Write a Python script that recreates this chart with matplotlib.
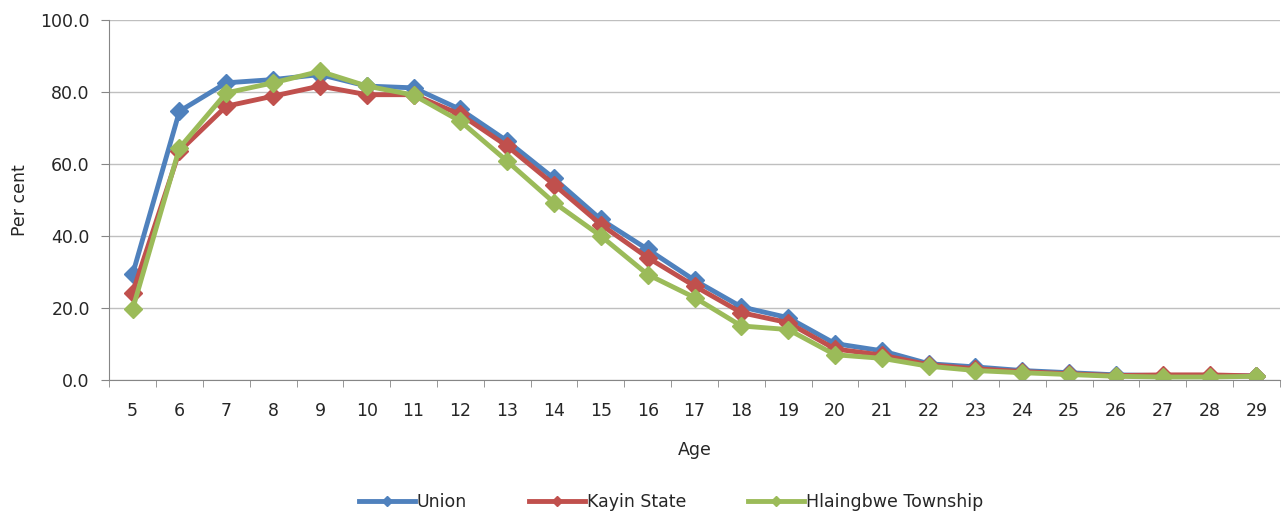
import matplotlib.pyplot as plt
import numpy as np

plt.rcParams['font.family'] = ['DejaVu Sans']
plt.rcParams['font.size'] = 12.5

ages = list(range(5, 30))
union = [29.4, 74.7, 82.6, 83.5, 84.9, 81.7, 81.2, 75.2, 66.4, 56.0, 44.6, 36.3, 27.7,
         20.3, 17.3, 10.1, 8.1, 4.5, 3.6, 2.6, 2.0, 1.4, 1.2, 1.2, 1.1]
kayin = [24.3, 63.6, 76.1, 78.9, 81.7, 79.3, 79.3, 73.8, 65.0, 54.3, 43.2, 34.0, 26.1,
         18.7, 15.9, 8.6, 6.9, 4.2, 3.1, 2.3, 1.7, 1.2, 1.4, 1.4, 1.1]
hlaingbwe = [19.7, 64.5, 79.8, 82.6, 85.8, 81.7, 79.2, 71.9, 60.8, 49.3, 40.0, 29.3, 22.9,
             15.0, 14.0, 7.0, 6.0, 3.8, 2.6, 2.0, 1.5, 1.0, 0.8, 0.8, 1.0]

series = [('Union', union, '#4F81BD'),
          ('Kayin State', kayin, '#C0504D'),
          ('Hlaingbwe Township', hlaingbwe, '#9BBB59')]

fig = plt.figure(figsize=(12.85, 5.19), dpi=100)
ax = fig.add_axes([0.085, 0.268, 0.911, 0.693])

for name, vals, col in series:
  ax.plot(ages, vals, color=col, lw=3.5, marker='D', ms=9, label=name)

ax.set_xlim(4.5, 29.5)
ax.set_ylim(0, 100)
ax.set_yticks(np.arange(0, 101, 20))
ax.set_yticklabels(['%.1f' % v for v in np.arange(0, 101, 20)])
ax.set_xticks(ages)
ax.set_xticks(np.arange(4.5, 30, 1), minor=True)
ax.tick_params(axis='x', which='major', length=0, pad=16, colors='#262626')
ax.tick_params(axis='x', which='minor', length=5, color='#868686', direction='out')
ax.tick_params(axis='y', length=6, color='#868686', labelcolor='#262626', direction='out', pad=8)
ax.grid(axis='y', color='#BFBFBF', lw=1)
ax.set_axisbelow(True)
for s in ['top', 'right']:
  ax.spines[s].set_visible(False)
for s in ['left', 'bottom']:
  ax.spines[s].set_color('#868686')
ax.set_xlabel('Age', labelpad=15, color='#262626')
ax.set_ylabel('Per cent', labelpad=8, color='#262626')

leg = ax.legend(loc='center', bbox_to_anchor=(0.48, -0.34), ncol=3, frameon=False,
                handlelength=3.2, handletextpad=0.1, columnspacing=3.6, markerscale=0.55,
                labelcolor='#262626')

plt.savefig('out.png')
